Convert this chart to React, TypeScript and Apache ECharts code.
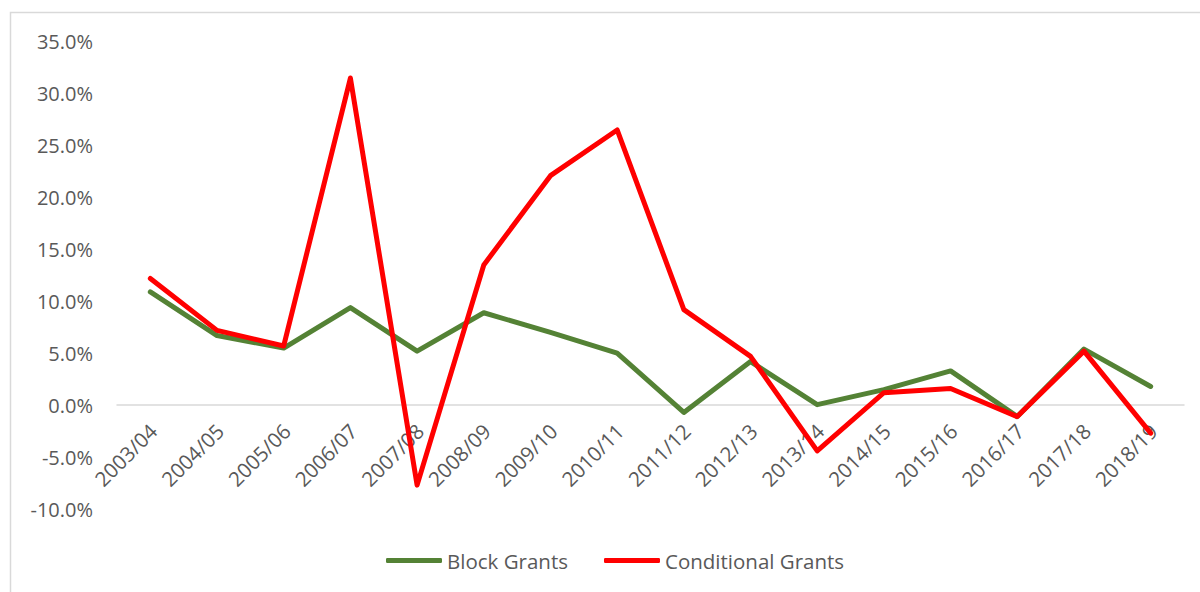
import React, { useEffect, useRef } from "react";
import * as echarts from "echarts";

const categories = [
  "2003/04", "2004/05", "2005/06", "2006/07", "2007/08", "2008/09", "2009/10", "2010/11",
  "2011/12", "2012/13", "2013/14", "2014/15", "2015/16", "2016/17", "2017/18", "2018/19",
];
const blockGrants = [10.9, 6.7, 5.5, 9.4, 5.2, 8.9, 7.0, 5.0, -0.7, 4.2, 0.05, 1.5, 3.3, -1.1, 5.4, 1.8];
const conditionalGrants = [12.2, 7.2, 5.7, 31.5, -7.7, 13.5, 22.1, 26.5, 9.2, 4.7, -4.4, 1.2, 1.6, -1.1, 5.2, -2.7];
const yTicks = { min: -10, max: 35, interval: 5 };

const FONT = "Open Sans";
const TEXT = "#595959";

export default function App() {
  const ref = useRef<HTMLDivElement>(null);
  useEffect(() => {
    const chart = echarts.init(ref.current!, null, { renderer: "svg" });
    const gridTop = 41.7;
    const gridBottom = 83;
    const plotH = 592 - gridTop - gridBottom;
    const zeroOffset = (plotH * (0 - yTicks.min)) / (yTicks.max - yTicks.min);
    chart.setOption({
      animation: false,
      backgroundColor: "#ffffff",
      textStyle: { fontFamily: FONT },
      graphic: [
        {
          type: "rect",
          shape: { x: 10.5, y: 12.5, width: 1300, height: 700 },
          style: { fill: "none", stroke: "#d9d9d9", lineWidth: 1.5 },
          silent: true,
        },
      ],
      grid: { left: 117, right: 16, top: gridTop, bottom: gridBottom, containLabel: false },
      xAxis: {
        type: "category",
        data: categories,
        boundaryGap: true,
        offset: -zeroOffset,
        axisLine: { onZero: false, lineStyle: { color: "#d9d9d9", width: 1.5 } },
        axisTick: { show: false },
        axisLabel: {
          rotate: 45,
          margin: 25,
          interval: 0,
          color: TEXT,
          fontSize: 20.5,
          fontFamily: FONT,
          padding: [0, -4, 0, 0],
        },
        splitLine: { show: false },
      },
      yAxis: {
        type: "value",
        min: yTicks.min,
        max: yTicks.max,
        interval: yTicks.interval,
        axisLine: { show: false },
        axisTick: { show: false },
        splitLine: { show: false },
        axisLabel: {
          margin: 24,
          color: TEXT,
          fontSize: 20,
          fontFamily: FONT,
          formatter: (v: number) => v.toFixed(1) + "%",
        },
      },
      legend: {
        bottom: 16,
        left: 381,
        itemWidth: 56,
        itemHeight: 5,
        itemGap: 36,
        icon: "roundRect",
        textStyle: { color: TEXT, fontSize: 20.5, fontFamily: FONT },
        data: ["Block Grants", "Conditional Grants"],
      },
      series: [
        {
          name: "Block Grants",
          type: "line",
          data: blockGrants,
          symbol: "none",
          color: "#548235",
          lineStyle: { width: 5, color: "#548235", cap: "round", join: "round" },
        },
        {
          name: "Conditional Grants",
          type: "line",
          data: conditionalGrants,
          symbol: "none",
          color: "#ff0000",
          lineStyle: { width: 5, color: "#ff0000", cap: "round", join: "round" },
        },
      ],
    });
    return () => chart.dispose();
  }, []);
  return (
    <div
      ref={ref}
      style={{ position: "fixed", left: 0, top: 0, width: 1200, height: 592 }}
    />
  );
}
